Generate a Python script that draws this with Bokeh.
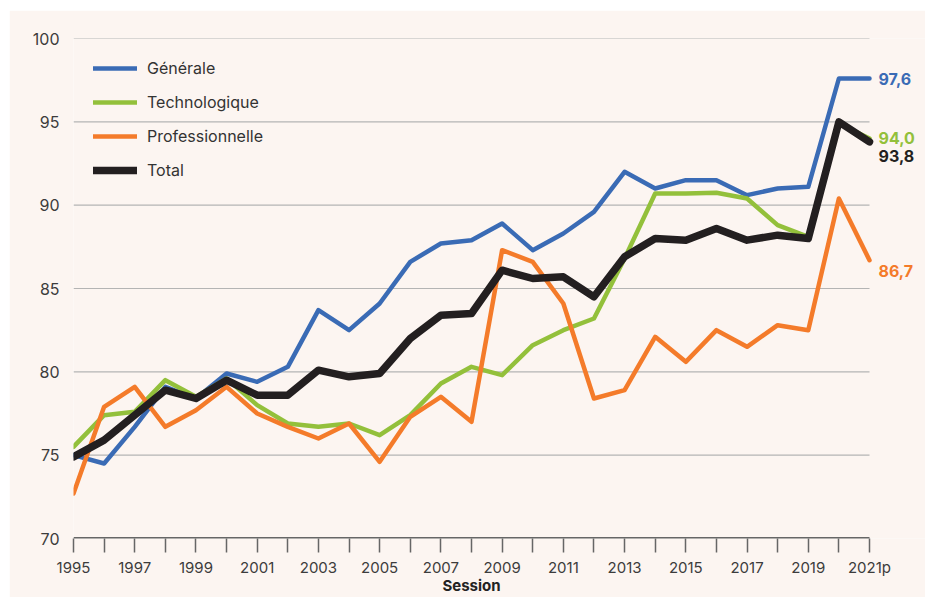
from bokeh.plotting import figure
from bokeh.models import FixedTicker, Legend, LegendItem, LinearAxis
from bokeh.core.properties import value
from bokeh.embed import file_html
from bokeh.resources import INLINE

years = list(range(1995, 2022))
generale = [75.0, 74.5, 76.7, 79.1, 78.4, 79.9, 79.4, 80.3, 83.7, 82.5, 84.1, 86.6, 87.7, 87.9,
            88.9, 87.3, 88.3, 89.6, 92.0, 91.0, 91.5, 91.5, 90.6, 91.0, 91.1, 97.6, 97.6]
technologique = [75.5, 77.4, 77.6, 79.5, 78.5, 79.6, 78.0, 76.9, 76.7, 76.9, 76.2, 77.4, 79.3, 80.3,
                 79.8, 81.6, 82.5, 83.2, 86.8, 90.7, 90.7, 90.75, 90.4, 88.8, 88.1, 94.9, 94.0]
professionnelle = [72.7, 77.9, 79.1, 76.7, 77.7, 79.1, 77.5, 76.7, 76.0, 76.9, 74.6, 77.3, 78.5, 77.0,
                   87.3, 86.6, 84.1, 78.4, 78.9, 82.1, 80.6, 82.5, 81.5, 82.8, 82.5, 90.4, 86.7]
total = [74.9, 75.9, 77.4, 78.9, 78.4, 79.5, 78.6, 78.6, 80.1, 79.7, 79.9, 82.0, 83.4, 83.5,
         86.1, 85.6, 85.7, 84.5, 86.9, 88.0, 87.9, 88.6, 87.9, 88.2, 88.0, 95.0, 93.8]
series_names = ["Générale", "Technologique", "Professionnelle", "Total"]
y_ticks = [70, 75, 80, 85, 90, 95, 100]
end_labels = ["97,6", "94,0", "86,7", "93,8"]

BG = "#fcf5f1"
FONT = "Inter"
colors = ["#3a6bb5", "#93c03b", "#f47b2a", "#231f20"]
widths = [4.5, 4.5, 4.5, 7.5]

# plot area extends to the right edge to leave room for the end labels
x_end = years[-1] + 56 / (796 / (years[-1] - years[0]))
p = figure(width=916, height=587, x_range=(years[0], x_end), y_range=(y_ticks[0], y_ticks[-1]),
           output_backend="svg", toolbar_location=None, margin=(10, 0, 0, 9),
           min_border_left=64, min_border_right=0, min_border_top=28, min_border_bottom=20)
p.background_fill_color = BG
p.border_fill_color = BG
p.outline_line_color = None

# horizontal grid lines limited to the data span
grid_y = y_ticks[1:]
p.segment(x0=[years[0]] * len(grid_y), x1=[years[-1]] * len(grid_y), y0=grid_y, y1=grid_y,
          line_color="#b4b4b4", line_width=1.2)
# x-axis base line
p.segment(x0=[years[0]], x1=[years[-1]], y0=[y_ticks[0]], y1=[y_ticks[0]],
          line_color="#666666", line_width=3)

items = []
data = [generale, technologique, professionnelle, total]
for name, ys, c, w in zip(series_names, data, colors, widths):
    r = p.line(years, ys, line_color=c, line_width=w, line_join="round", line_cap="round")
    items.append(LegendItem(label=name, renderers=[r]))

# end labels
offsets = [0, 1, -11, -14]
for ys, lab, c, off in zip(data, end_labels, colors, offsets):
    p.text(x=[years[-1]], y=[ys[-1]], text=[lab], text_color=c, text_font=value(FONT),
           text_font_size="16px", text_font_style="bold", text_baseline="middle",
           text_align="left", x_offset=9, y_offset=-off)

legend = Legend(items=items, location="top_left", margin=20, padding=0,
                glyph_width=44, glyph_height=20, label_height=20, spacing=14,
                label_standoff=10, label_text_font=FONT, label_text_font_size="16px",
                label_text_color="#333333", background_fill_alpha=0, border_line_color=None)
p.add_layout(legend)

# axes
p.xaxis.ticker = FixedTicker(ticks=years)
overrides = {}
for y in years:
    if (y - 1995) % 2 == 0:
        overrides[y] = str(y) if y != 2021 else "2021p"
    else:
        overrides[y] = ""
p.xaxis.major_label_overrides = overrides
p.xaxis.axis_line_color = None
p.xaxis.major_tick_line_color = "#666666"
p.xaxis.major_tick_line_width = 1.5
p.xaxis.major_tick_out = 14
p.xaxis.major_tick_in = 0
p.xaxis.minor_tick_line_color = None
p.xaxis.major_label_standoff = 5
p.xaxis.major_label_text_font = FONT
p.xaxis.major_label_text_font_size = "15px"
p.xaxis.major_label_text_color = "#3c3c3c"

# "Session" title centred under the data span
mid = (years[0] + years[-1]) / 2
title_axis = LinearAxis(ticker=FixedTicker(ticks=[mid]), major_label_overrides={mid: "Session"},
                        axis_line_color=None, major_tick_line_color=None,
                        major_tick_out=0, major_tick_in=0,
                        minor_tick_line_color=None, minor_tick_out=0, minor_tick_in=0,
                        major_label_standoff=-4,
                        major_label_text_font=FONT, major_label_text_font_style="bold",
                        major_label_text_font_size="15px", major_label_text_color="#222222")
p.add_layout(title_axis, "below")

p.yaxis.ticker = FixedTicker(ticks=y_ticks)
p.yaxis.axis_line_color = None
p.yaxis.major_tick_line_color = None
p.yaxis.minor_tick_line_color = None
p.yaxis.major_label_standoff = 8
p.yaxis.major_label_text_font = FONT
p.yaxis.major_label_text_font_size = "16px"
p.yaxis.major_label_text_color = "#3c3c3c"

p.xgrid.grid_line_color = None
p.ygrid.grid_line_color = None

open("out.html", "w").write(file_html(p, INLINE))
